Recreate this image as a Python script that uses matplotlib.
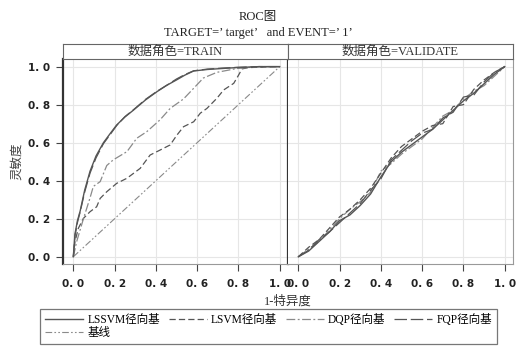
import matplotlib
matplotlib.use("Agg")
import matplotlib.pyplot as plt
from matplotlib.lines import Line2D

plt.rcParams['font.family'] = ['Liberation Serif', 'Noto Sans CJK SC', 'DejaVu Sans']

# TRAIN curves (1-specificity, sensitivity)
train_top_x = [0, 0.008, 0.02, 0.033, 0.055, 0.081, 0.11, 0.146, 0.18, 0.21, 0.25, 0.29,
               0.35, 0.405, 0.45, 0.5, 0.54, 0.583, 0.65, 0.72, 0.793, 0.9, 1.0]
train_lssvm_y = [0, 0.12, 0.19, 0.24, 0.35, 0.45, 0.53, 0.60, 0.65, 0.693, 0.735, 0.77,
                 0.825, 0.868, 0.90, 0.93, 0.955, 0.977, 0.985, 0.99, 0.995, 1.0, 1.0]
train_fqp_y = [0, 0.11, 0.18, 0.235, 0.34, 0.44, 0.52, 0.595, 0.645, 0.69, 0.737, 0.772,
               0.828, 0.87, 0.90, 0.935, 0.958, 0.978, 0.987, 0.992, 0.996, 1.0, 1.0]
train_dqp_x = [0, 0.016, 0.049, 0.081, 0.097, 0.13, 0.162, 0.194, 0.26, 0.307, 0.356,
               0.42, 0.469, 0.534, 0.583, 0.63, 0.696, 0.793, 0.9, 1.0]
train_dqp_y = [0, 0.079, 0.20, 0.31, 0.37, 0.395, 0.48, 0.51, 0.553, 0.623, 0.658,
               0.72, 0.78, 0.83, 0.886, 0.94, 0.97, 0.99, 1.0, 1.0]
train_lsvm_x = [0, 0.008, 0.024, 0.049, 0.081, 0.113, 0.13, 0.162, 0.21, 0.26, 0.324,
                0.372, 0.42, 0.469, 0.502, 0.534, 0.583, 0.615, 0.647, 0.696, 0.728,
                0.777, 0.801, 0.817, 0.85, 1.0]
train_lsvm_y = [0, 0.079, 0.149, 0.202, 0.237, 0.263, 0.307, 0.342, 0.386, 0.413, 0.465,
                0.535, 0.561, 0.588, 0.64, 0.684, 0.71, 0.755, 0.78, 0.834, 0.877,
                0.912, 0.956, 0.988, 0.995, 1.0]

# VALIDATE curves
val_x = [0, 0.05, 0.1, 0.15, 0.2, 0.25, 0.3, 0.35, 0.4, 0.45, 0.5,
         0.55, 0.6, 0.65, 0.7, 0.75, 0.8, 0.85, 0.9, 0.95, 1.0]
val_lssvm_y = [0, 0.03, 0.08, 0.13, 0.19, 0.22, 0.27, 0.33, 0.42, 0.50, 0.55,
               0.59, 0.63, 0.67, 0.72, 0.77, 0.82, 0.86, 0.91, 0.96, 1.0]
val_lsvm_y = [0, 0.05, 0.09, 0.15, 0.21, 0.25, 0.30, 0.36, 0.44, 0.52, 0.58,
              0.62, 0.66, 0.69, 0.70, 0.79, 0.80, 0.88, 0.93, 0.97, 1.0]
val_dqp_y = [0, 0.04, 0.08, 0.14, 0.20, 0.25, 0.29, 0.34, 0.45, 0.49, 0.54,
             0.58, 0.62, 0.68, 0.74, 0.77, 0.83, 0.87, 0.90, 0.95, 1.0]
val_fqp_y = [0, 0.035, 0.09, 0.13, 0.18, 0.23, 0.28, 0.35, 0.41, 0.51, 0.56,
             0.61, 0.65, 0.67, 0.73, 0.76, 0.84, 0.85, 0.92, 0.97, 1.0]

base_x = [0, 1]
base_y = [0, 1]

ticks = [0.0, 0.2, 0.4, 0.6, 0.8, 1.0]
tick_labels = ["0. 0", "0. 2", "0. 4", "0. 6", "0. 8", "1. 0"]
series_names = ["LSSVM径向基", "LSVM径向基", "DQP径向基", "FQP径向基", "基线"]
panel_names = ["数据角色=TRAIN", "数据角色=VALIDATE"]

dark = "#555555"
light = "#8a8a8a"
styles = {
    "lssvm": dict(color=dark, lw=1.0, ls="-"),
    "lsvm": dict(color=dark, lw=0.9, ls=(0, (5, 2.5))),
    "dqp": dict(color=light, lw=0.9, ls=(0, (7, 2, 1.5, 2))),
    "fqp": dict(color=dark, lw=0.9, ls=(0, (10, 3))),
    "base": dict(color=light, lw=0.8, ls=(0, (6, 2, 1.5, 2, 1.5, 2))),
}

fig = plt.figure(figsize=(5.16, 3.49), dpi=100)

ax1 = fig.add_axes([63 / 516, 1 - 264 / 349, 225 / 516, 205 / 349])
ax2 = fig.add_axes([288 / 516, 1 - 264 / 349, 225 / 516, 205 / 349])

ax1.plot(base_x, base_y, **styles["base"])
ax1.plot(train_lsvm_x, train_lsvm_y, **styles["lsvm"])
ax1.plot(train_dqp_x, train_dqp_y, **styles["dqp"])
ax1.plot(train_top_x, train_fqp_y, **styles["fqp"])
ax1.plot(train_top_x, train_lssvm_y, **styles["lssvm"])

ax2.plot(val_x, val_dqp_y, **styles["dqp"])
ax2.plot(val_x, val_fqp_y, **styles["fqp"])
ax2.plot(val_x, val_lsvm_y, **styles["lsvm"])
ax2.plot(val_x, val_lssvm_y, **styles["lssvm"])

for ax in (ax1, ax2):
    ax.set_xlim(-0.05, 1.04)
    ax.set_ylim(-0.038, 1.04)
    ax.set_xticks(ticks)
    ax.set_xticklabels(tick_labels, family="DejaVu Sans", fontsize=7.5,
                       color="#222222", fontweight="semibold")
    ax.set_yticks(ticks)
    ax.grid(True, color="#e6e6e6", lw=0.8)
    ax.set_axisbelow(True)
    ax.tick_params(axis="x", length=5, width=0.8, color="#444444", pad=6)
    for s in ax.spines.values():
        s.set_color("#999999")
        s.set_linewidth(0.8)
    ax.spines["top"].set_color("#333333")
    ax.spines["top"].set_linewidth(1.3)

ax1.set_yticklabels(tick_labels, family="DejaVu Sans", fontsize=7.5,
                    color="#222222", fontweight="semibold")
ax1.tick_params(axis="y", length=5, width=0.8, color="#444444", pad=4)
ax1.spines["left"].set_color("#333333")
ax1.spines["left"].set_linewidth(1.6)
ax1.spines["right"].set_color("#333333")
ax1.spines["right"].set_linewidth(1.6)
ax2.spines["left"].set_visible(False)
ax2.tick_params(axis="y", left=False, labelleft=False)

ax1.set_ylabel("灵敏度", fontsize=9, color="#444444", labelpad=4)
fig.text(288 / 516, 1 - 301 / 349, "1-特异度", ha="center", va="center",
         fontsize=9, color="#333333")

# panel header strips
for i, name in enumerate(panel_names):
    left = 63 / 516 if i == 0 else 288 / 516
    sax = fig.add_axes([left, 1 - 59 / 349, 225 / 516, 15 / 349])
    sax.set_xticks([])
    sax.set_yticks([])
    for s in sax.spines.values():
        s.set_color("#666666")
        s.set_linewidth(0.8)
    sax.text(0.5, 0.45, name, transform=sax.transAxes, ha="center", va="center",
             fontsize=9, color="#333333")

fig.text(0.5, 1 - 17 / 349, "ROC图", ha="center", va="center", fontsize=9, color="#222222")
fig.text(0.5, 1 - 33 / 349, "TARGET=\u2019 target\u2019   and EVENT=\u2019 1\u2019",
         ha="center", va="center", fontsize=9, color="#222222")

handles = [
    Line2D([], [], **styles["lssvm"]),
    Line2D([], [], **styles["lsvm"]),
    Line2D([], [], **styles["dqp"]),
    Line2D([], [], **styles["fqp"]),
    Line2D([], [], **styles["base"]),
]
# legend fills column by column: put the baseline under the first entry
order = [0, 4, 1, 2, 3]
leg = fig.legend([handles[i] for i in order], [series_names[i] for i in order],
                 loc="upper left", bbox_to_anchor=(40 / 516, 1 - 309 / 349), ncol=4,
                 fontsize=8.3, handlelength=3.3, handletextpad=0.4,
                 columnspacing=0.7, labelspacing=0.05, borderpad=0.45,
                 fancybox=False, frameon=True, borderaxespad=0)
leg.get_frame().set_edgecolor("#555555")
leg.get_frame().set_linewidth(0.9)

fig.savefig("out.png", dpi=100)
